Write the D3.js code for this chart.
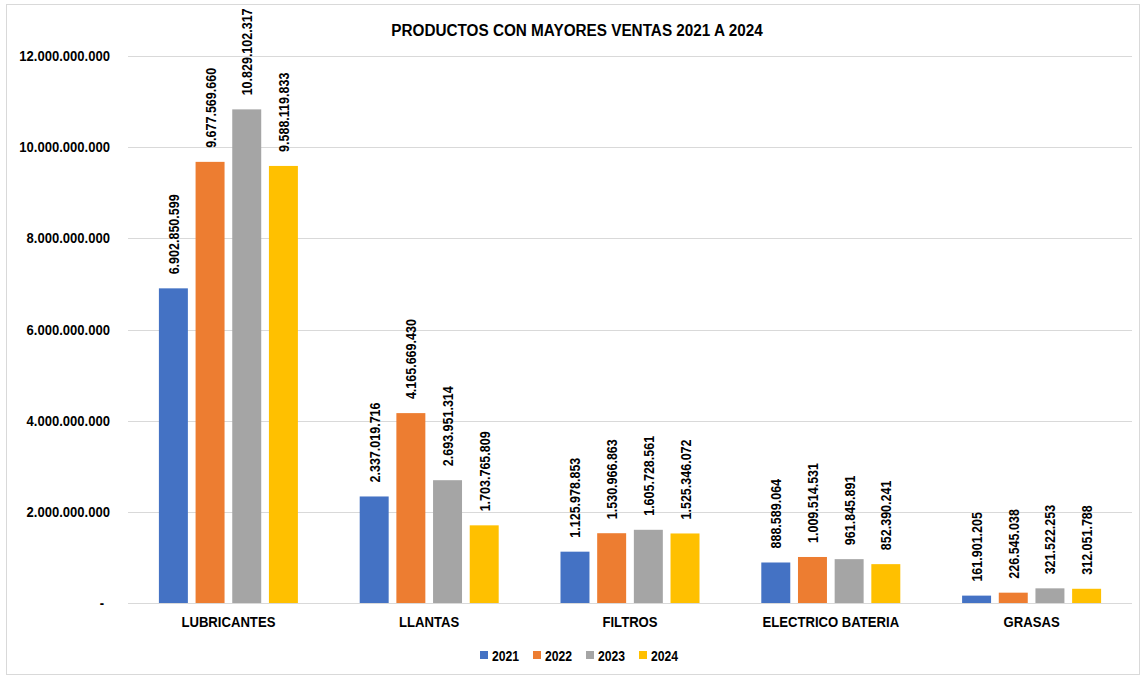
<!DOCTYPE html>
<html>
<head>
<meta charset="utf-8">
<script src="https://cdn.jsdelivr.net/npm/d3@7"></script>
<style>
  html, body { margin: 0; padding: 0; background: #fff; }
  svg text { font-family: "Liberation Sans", Arial, sans-serif; font-weight: bold; fill: #000; }
</style>
</head>
<body>
<svg id="chart" width="1143" height="677"></svg>
<script>
// Sales by product line, 2021–2024
const categories = ["LUBRICANTES", "LLANTAS", "FILTROS", "ELECTRICO BATERIA", "GRASAS"];
const years = ["2021", "2022", "2023", "2024"];
const sales2021 = [6902850599, 2337019716, 1125978853, 888589064, 161901205];
const sales2022 = [9677569660, 4165669430, 1530966863, 1009514531, 226545038];
const sales2023 = [10829102317, 2693951314, 1605728561, 961845891, 321522253];
const sales2024 = [9588119833, 1703765809, 1525346072, 852390241, 312051788];
const yTicks = [0, 2000000000, 4000000000, 6000000000, 8000000000, 10000000000, 12000000000];
const colors = ["#4472C4", "#ED7D31", "#A5A5A5", "#FFC000"];
const title = "PRODUCTOS CON MAYORES VENTAS 2021 A 2024";

const seriesValues = [sales2021, sales2022, sales2023, sales2024];
const rows = categories.map((c, i) => ({ category: c, values: years.map((y, j) => ({ year: y, value: seriesValues[j][i] })) }));

const W = 1143, H = 677;
const margin = { left: 128, right: 11, top: 56, bottom: 74 };
const svg = d3.select("#chart");

// chart frame
svg.append("rect").attr("x", 6.5).attr("y", 4.5).attr("width", 1133).attr("height", 670)
  .attr("fill", "#fff").attr("stroke", "#d9d9d9").attr("stroke-width", 1);

const x0 = d3.scaleBand().domain(categories).range([margin.left, W - margin.right]).paddingInner(0).paddingOuter(0);
const groupW = 139;
const x1 = d3.scaleBand().domain(years).range([0, groupW]).paddingInner(0.21).paddingOuter(0);
const y = d3.scaleLinear().domain([0, 12000000000]).range([H - margin.bottom, margin.top]);

// number formatting with dots as thousands separator
const fmt = d3.formatLocale({ decimal: ",", thousands: ".", grouping: [3], currency: ["$", ""] }).format(",.0f");
const tickLabel = v => v === 0 ? "-" : fmt(v);

// horizontal gridlines
svg.append("g").selectAll("line").data(yTicks).join("line")
  .attr("x1", margin.left).attr("x2", W - margin.right)
  .attr("y1", d => Math.round(y(d)) + 0.5).attr("y2", d => Math.round(y(d)) + 0.5)
  .attr("stroke", "#d9d9d9").attr("stroke-width", 1);

// y axis labels (condensed bold)
const yLab = svg.append("g").selectAll("g").data(yTicks).join("g")
  .attr("transform", d => `translate(${d === 0 ? 104 : 110},${y(d) + 5}) scale(0.9,1)`);
yLab.append("text").attr("text-anchor", "end").style("font-size", "14.5px").text(tickLabel);

// bars
const groups = svg.append("g").selectAll("g").data(rows).join("g")
  .attr("transform", d => `translate(${x0(d.category) + (x0.bandwidth() - groupW) / 2},0)`);

groups.selectAll("rect").data(d => d.values).join("rect")
  .attr("x", d => x1(d.year))
  .attr("width", x1.bandwidth())
  .attr("y", d => y(d.value))
  .attr("height", d => y(0) - y(d.value))
  .attr("fill", (d, i) => colors[i]);

// rotated value labels above each bar
groups.selectAll("g.val").data(d => d.values).join("g").attr("class", "val")
  .attr("transform", d => `translate(${x1(d.year) + x1.bandwidth() / 2 + 5.5},${y(d.value) - 14}) rotate(-90) scale(0.835,1)`)
  .append("text").attr("text-anchor", "start").style("font-size", "15px").text(d => fmt(d.value));

// category labels
svg.append("g").selectAll("g").data(categories).join("g")
  .attr("transform", d => `translate(${x0(d) + x0.bandwidth() / 2},627) scale(0.875,1)`)
  .append("text").attr("text-anchor", "middle").style("font-size", "15px").text(d => d);

// title
svg.append("g").attr("transform", `translate(577,36) scale(0.9,1)`)
  .append("text").attr("text-anchor", "middle").style("font-size", "17px").text(title);

// legend
const legStep = 53, legX = 480;
const leg = svg.append("g").selectAll("g").data(years).join("g")
  .attr("transform", (d, i) => `translate(${legX + i * legStep},651)`);
leg.append("rect").attr("width", 8).attr("height", 8).attr("fill", (d, i) => colors[i]);
leg.append("g").attr("transform", "translate(12,9.5) scale(0.87,1)")
  .append("text").style("font-size", "14px").text(d => d);
</script>
</body>
</html>
